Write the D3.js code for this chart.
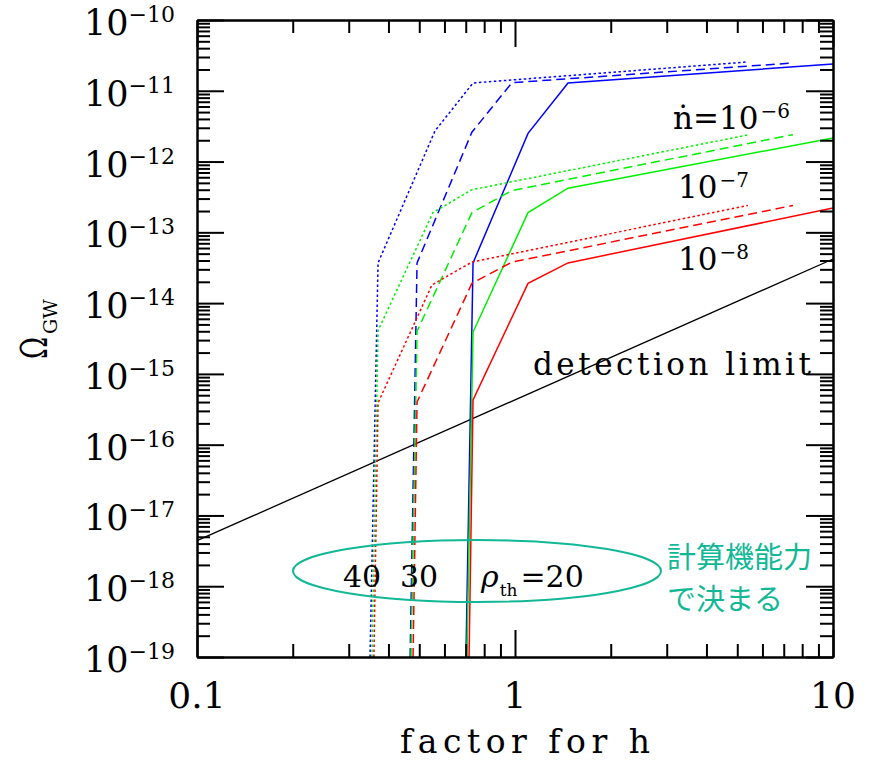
<!DOCTYPE html>
<html>
<head>
<meta charset="utf-8">
<script src="https://cdn.jsdelivr.net/npm/d3@7"></script>
<style>
  body { margin: 0; background: #fff; }
  svg { display: block; }
</style>
</head>
<body>
<script>
// ---- data (h factor, Omega_GW) ----
const detectionLimit = [[0.1, 4.4e-18], [10, 4.2e-14]];

// ndot = 1e-6
const n6_rho40 = [[0.350, 1e-19], [0.371, 3.7e-14], [0.560, 2.7e-12], [0.738, 1.29e-11], [5.37, 2.55e-11]];
const n6_rho30 = [[0.468, 1e-19], [0.492, 3.7e-14], [0.732, 2.6e-12], [0.978, 1.30e-11], [7.48, 2.47e-11]];
const n6_rho20 = [[0.701, 1e-19], [0.738, 3.7e-14], [1.099, 2.5e-12], [1.468, 1.29e-11], [10, 2.39e-11]];
// ndot = 1e-7
const n7_rho40 = [[0.355, 1e-19], [0.371, 4.1e-15], [0.552, 1.9e-13], [0.732, 4.0e-13], [5.45, 2.4e-12]];
const n7_rho30 = [[0.471, 1e-19], [0.492, 4.0e-15], [0.732, 1.9e-13], [0.978, 3.9e-13], [7.48, 2.4e-12]];
const n7_rho20 = [[0.706, 1e-19], [0.738, 3.9e-15], [1.099, 1.9e-13], [1.468, 4.2e-13], [10, 2.15e-12]];
// ndot = 1e-8
const n8_rho40 = [[0.360, 1e-19], [0.371, 3.9e-16], [0.548, 1.8e-14], [0.732, 3.8e-14], [5.40, 2.4e-13]];
const n8_rho30 = [[0.478, 1e-19], [0.492, 4.0e-16], [0.732, 1.9e-14], [0.978, 3.8e-14], [7.48, 2.4e-13]];
const n8_rho20 = [[0.717, 1e-19], [0.738, 4.3e-16], [1.099, 1.9e-14], [1.468, 3.7e-14], [10, 2.2e-13]];

const xTickLabels = ['0.1', '1', '10'];
const yTickExponents = [-19, -18, -17, -16, -15, -14, -13, -12, -11, -10];

const width = 870;
const height = 760;
const plotLeft = 197, plotRight = 833, plotTop = 20, plotBottom = 657;

const svg = d3.select('body').append('svg')
    .attr('width', width)
    .attr('height', height);

const x = d3.scaleLog().domain([0.1, 10]).range([plotLeft, plotRight]);
const y = d3.scaleLog().domain([1e-19, 1e-10]).range([plotBottom, plotTop]);

const isMajor = v => Math.abs(Math.log10(v) - Math.round(Math.log10(v))) < 1e-6;
const xTicks = x.ticks();
const yTicks = [];
yTickExponents.forEach(e => d3.range(1, 10).forEach(m => {
    const v = m * Math.pow(10, e);
    if (v <= 1e-10 * 1.0001) yTicks.push(v);
}));

const serif = "'DejaVu Serif', serif";
const teal = '#12b896';

// ---- curves ----
const line = d3.line()
    .x(d => x(d[0]))
    .y(d => y(d[1]));

const dotted = '2.5,2.5';
const dashed = '9,5';
const series = [
    {data: n6_rho40, color: '#0000ff', dash: dotted},
    {data: n6_rho30, color: '#0000ff', dash: dashed},
    {data: n6_rho20, color: '#0000ff', dash: null},
    {data: n7_rho40, color: '#00f000', dash: dotted},
    {data: n7_rho30, color: '#00f000', dash: dashed},
    {data: n7_rho20, color: '#00f000', dash: null},
    {data: n8_rho40, color: '#ff0000', dash: dotted},
    {data: n8_rho30, color: '#ff0000', dash: dashed},
    {data: n8_rho20, color: '#ff0000', dash: null}
];

svg.append('path')
    .datum(detectionLimit)
    .attr('d', line)
    .attr('fill', 'none')
    .attr('stroke', '#000')
    .attr('stroke-width', 1.3);

svg.selectAll('path.curve')
    .data(series)
    .enter()
    .append('path')
    .attr('class', 'curve')
    .attr('d', d => line(d.data))
    .attr('fill', 'none')
    .attr('stroke', d => d.color)
    .attr('stroke-width', 1.5)
    .attr('stroke-dasharray', d => d.dash);

// ---- frame and ticks (inward, all four sides) ----
function drawAxis(axisFn, scale, ticks, transform) {
    [[ticks.filter(v => !isMajor(v)), 13], [ticks.filter(isMajor), 27]].forEach(([vals, len]) => {
        const g = svg.append('g')
            .attr('transform', transform)
            .call(axisFn(scale).tickValues(vals).tickSize(-len).tickSizeOuter(0).tickFormat(''));
        g.selectAll('line').attr('stroke', '#000').attr('stroke-width', 2);
        g.select('.domain').attr('stroke', '#000').attr('stroke-width', 2);
    });
}
drawAxis(d3.axisBottom, x, xTicks, `translate(0,${plotBottom})`);
drawAxis(d3.axisTop, x, xTicks, `translate(0,${plotTop})`);
drawAxis(d3.axisLeft, y, yTicks, `translate(${plotLeft},0)`);
drawAxis(d3.axisRight, y, yTicks, `translate(${plotRight},0)`);

// ---- tick labels ----
svg.selectAll('text.xlab')
    .data(xTickLabels)
    .enter()
    .append('text')
    .attr('class', 'xlab')
    .attr('x', d => x(+d))
    .attr('y', 708)
    .attr('text-anchor', 'middle')
    .attr('font-family', serif)
    .attr('font-size', 36)
    .text(d => d);

const ylab = svg.selectAll('text.ylab')
    .data(yTickExponents)
    .enter()
    .append('text')
    .attr('class', 'ylab')
    .attr('x', 175)
    .attr('y', d => y(Math.pow(10, d)) + 15)
    .attr('text-anchor', 'end')
    .attr('font-family', serif);
ylab.append('tspan').attr('font-size', 35).text('10');
ylab.append('tspan').attr('font-size', 22).attr('dy', -13).text(d => '\u2212' + Math.abs(d));

// ---- axis titles ----
svg.append('text')
    .attr('x', 525)
    .attr('y', 753)
    .attr('text-anchor', 'middle')
    .attr('font-family', serif)
    .attr('font-size', 33)
    .attr('textLength', 250)
    .attr('lengthAdjust', 'spacing')
    .text('factor for h');

const yTitle = svg.append('g').attr('transform', 'translate(47,359) rotate(-90)');
yTitle.append('text')
    .attr('x', 0).attr('y', 0)
    .attr('font-family', serif)
    .attr('font-size', 38)
    .attr('textLength', 22)
    .attr('lengthAdjust', 'spacingAndGlyphs')
    .text('\u03A9');
yTitle.append('text')
    .attr('x', 25).attr('y', 10)
    .attr('font-family', serif)
    .attr('font-size', 19)
    .text('GW');

// ---- annotations ----
svg.append('text')
    .attr('x', 533)
    .attr('y', 375)
    .attr('font-family', serif)
    .attr('font-size', 31)
    .attr('textLength', 278)
    .attr('lengthAdjust', 'spacing')
    .text('detection limit');

function sciLabel(xBase, yBase, prefix, exp) {
    const t = svg.append('text').attr('font-family', serif).attr('x', xBase).attr('y', yBase);
    t.append('tspan').attr('font-size', 31).text(prefix + '10');
    t.append('tspan').attr('font-size', 20).attr('dx', 2).attr('dy', -11).text('\u2212' + exp);
}
sciLabel(673, 129, '\u1E45=', 6);
sciLabel(678, 198, '', 7);
sciLabel(678, 270, '', 8);

// rho_th labels
const rhoG = svg.append('g').attr('font-family', serif);
rhoG.append('text').attr('x', 343).attr('y', 587).attr('font-size', 30).text('40');
rhoG.append('text').attr('x', 400).attr('y', 587).attr('font-size', 30).text('30');
const rhoT = rhoG.append('text').attr('x', 481).attr('y', 587).attr('font-size', 30);
rhoT.append('tspan').attr('font-style', 'italic').text('\u03C1');
rhoT.append('tspan').attr('font-size', 17).attr('dx', 1).attr('dy', 9).text('th');
rhoT.append('tspan').attr('dx', 3).attr('dy', -9).text('=20');

svg.append('ellipse')
    .attr('cx', 477)
    .attr('cy', 571)
    .attr('rx', 184)
    .attr('ry', 31)
    .attr('fill', 'none')
    .attr('stroke', teal)
    .attr('stroke-width', 2);

const jpLines = ['計算機能力', 'で決まる'];
svg.selectAll('text.jp')
    .data(jpLines)
    .enter()
    .append('text')
    .attr('class', 'jp')
    .attr('x', 667)
    .attr('y', (d, i) => 568 + i * 42)
    .attr('font-family', "'Noto Sans CJK JP', sans-serif")
    .attr('font-size', 29)
    .attr('fill', teal)
    .text(d => d);
</script>
</body>
</html>
